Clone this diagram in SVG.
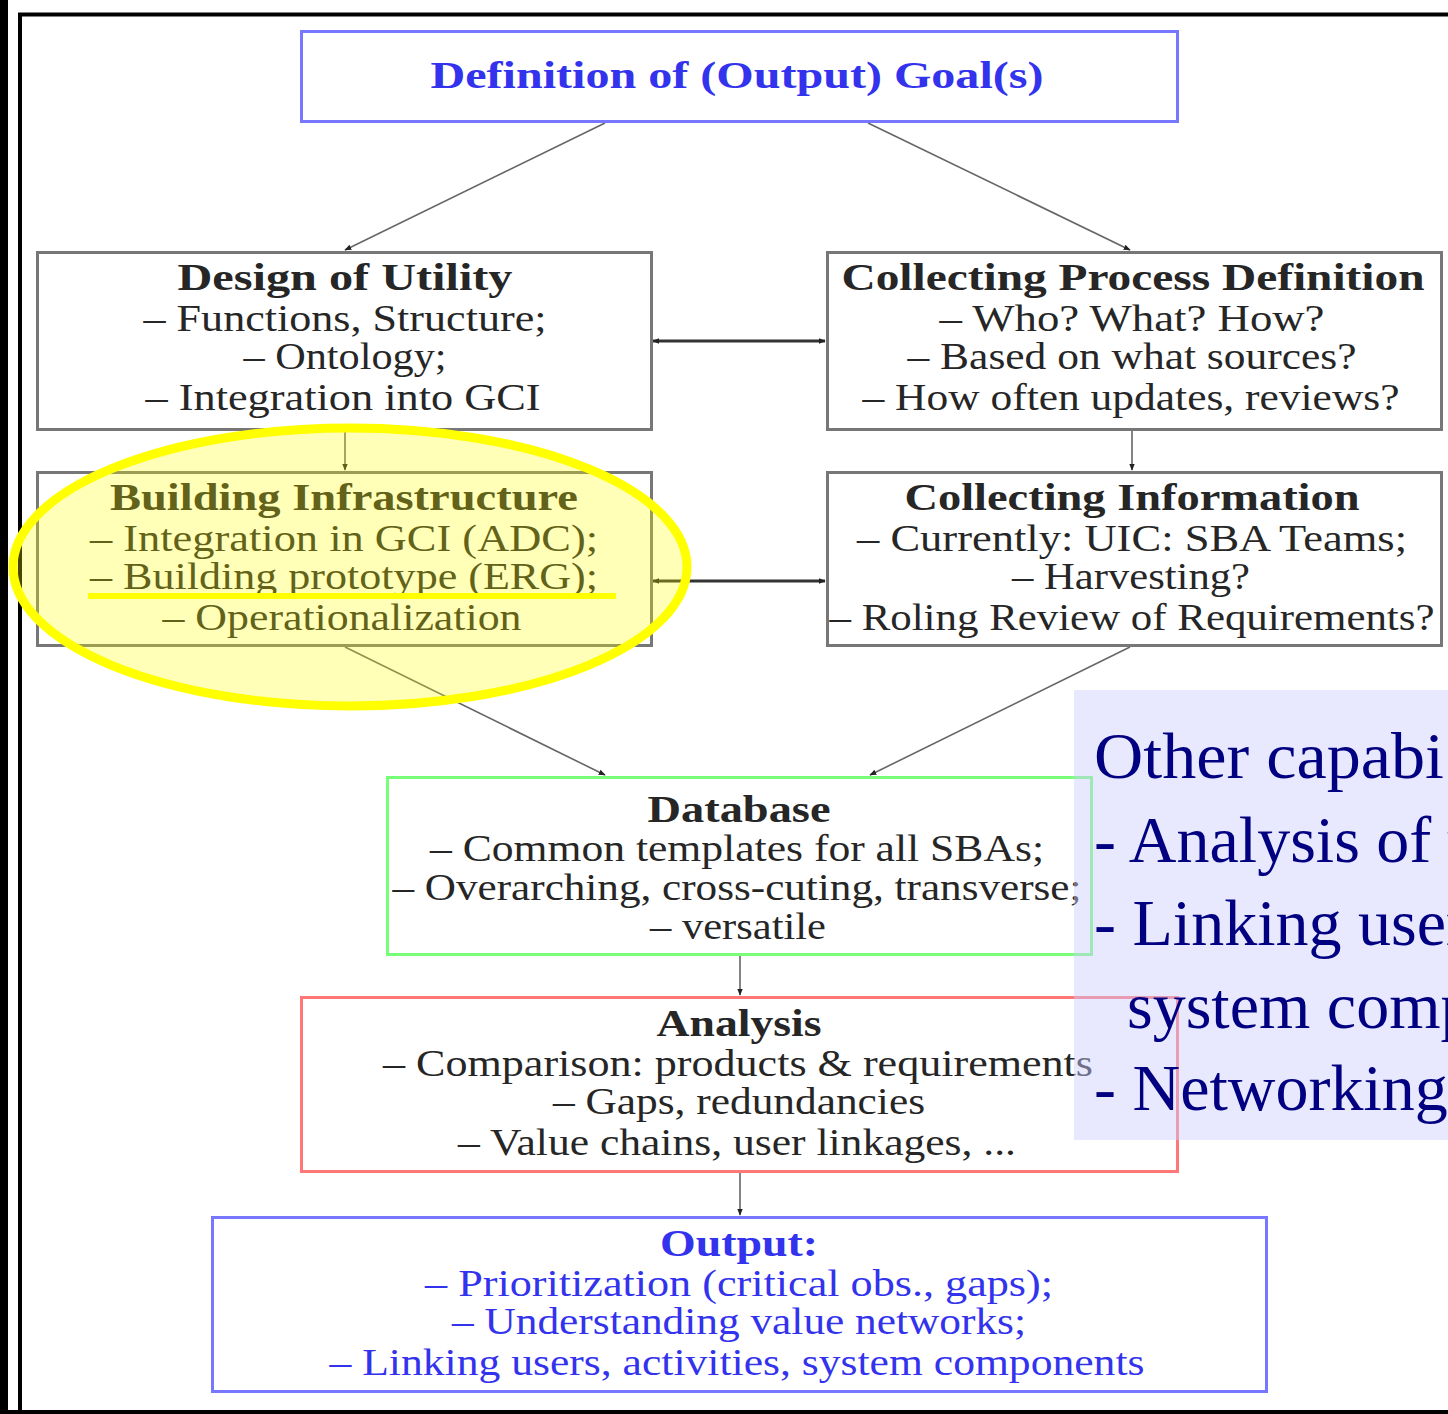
<svg xmlns="http://www.w3.org/2000/svg" width="1448" height="1414" viewBox="0 0 1448 1414">
<defs>
<marker id="ah" viewBox="0 0 10 10" refX="9" refY="5" markerWidth="7" markerHeight="7" orient="auto-start-reverse" markerUnits="userSpaceOnUse">
<path d="M0,1 L10,5 L0,9 z" fill="#222"/>
</marker>
<style>
.box{fill:none;stroke-width:3}
.g{stroke:#777}
.b{stroke:#7777ff}
.gr{stroke:#77ff77}
.r{stroke:#ff7777}
text{font-family:"Liberation Serif","DejaVu Serif",serif;font-size:38px;text-anchor:middle;fill:#262626}
.t{font-weight:bold}
.bl{fill:#3333ee}
.ov{font-family:"Liberation Serif","Times New Roman",serif;font-size:66px;fill:#000080;text-anchor:start}
.c{fill:none;stroke:#666;stroke-width:1.6}
.h{fill:none;stroke:#333;stroke-width:3}
</style>
</defs>
<rect width="1448" height="1414" fill="#fff"/>
<rect x="0" y="0" width="8" height="1414" fill="#000"/>
<path d="M20,1450 V14.5 H1450" fill="none" stroke="#000" stroke-width="4"/>
<rect x="0" y="1410" width="1448" height="4" fill="#000"/>

<g id="connectors">
<line class="c" x1="605" y1="123" x2="345" y2="250" marker-end="url(#ah)"/>
<line class="c" x1="868" y1="123" x2="1130" y2="250" marker-end="url(#ah)"/>
<line class="h" x1="653" y1="341" x2="825" y2="341" marker-start="url(#ah)" marker-end="url(#ah)"/>
<line class="c" x1="345" y1="431" x2="345" y2="470" marker-end="url(#ah)"/>
<line class="c" x1="1132" y1="431" x2="1132" y2="470" marker-end="url(#ah)"/>
<line class="h" x1="653" y1="581" x2="825" y2="581" marker-start="url(#ah)" marker-end="url(#ah)"/>
<line class="c" x1="345" y1="647" x2="605" y2="775" marker-end="url(#ah)"/>
<line class="c" x1="1130" y1="647" x2="870" y2="775" marker-end="url(#ah)"/>
<line class="c" x1="740" y1="956" x2="740" y2="995" marker-end="url(#ah)"/>
<line class="c" x1="740" y1="1173" x2="740" y2="1215" marker-end="url(#ah)"/>
</g>

<g id="goal">
<rect class="box b" x="301.5" y="31.5" width="876" height="90"/>
<text class="t bl" x="737" y="88" textLength="613" lengthAdjust="spacingAndGlyphs">Definition of (Output) Goal(s)</text>
</g>

<g id="design">
<rect class="box g" x="37.5" y="252.5" width="614" height="177"/>
<text class="t" x="345" y="290" textLength="335" lengthAdjust="spacingAndGlyphs">Design of Utility</text>
<text x="345" y="331" textLength="403" lengthAdjust="spacingAndGlyphs">– Functions, Structure;</text>
<text x="345" y="369" textLength="203" lengthAdjust="spacingAndGlyphs">– Ontology;</text>
<text x="343" y="410" textLength="395" lengthAdjust="spacingAndGlyphs">– Integration into GCI</text>
</g>

<g id="process">
<rect class="box g" x="827.5" y="252.5" width="614" height="177"/>
<text class="t" x="1133" y="290" textLength="583" lengthAdjust="spacingAndGlyphs">Collecting Process Definition</text>
<text x="1132" y="331" textLength="385" lengthAdjust="spacingAndGlyphs">– Who?  What?  How?</text>
<text x="1132" y="369" textLength="449" lengthAdjust="spacingAndGlyphs">– Based on what sources?</text>
<text x="1131" y="410" textLength="537" lengthAdjust="spacingAndGlyphs">– How often updates, reviews?</text>
</g>

<g id="building">
<rect class="box g" x="37.5" y="472.5" width="614" height="173"/>
<text class="t" x="344" y="510" textLength="468" lengthAdjust="spacingAndGlyphs">Building Infrastructure</text>
<text x="344" y="551" textLength="508" lengthAdjust="spacingAndGlyphs">– Integration in GCI (ADC);</text>
<text x="344" y="589" textLength="508" lengthAdjust="spacingAndGlyphs">– Building prototype (ERG);</text>
<text x="342" y="630" textLength="359" lengthAdjust="spacingAndGlyphs">– Operationalization</text>
</g>

<g id="information">
<rect class="box g" x="827.5" y="472.5" width="614" height="173"/>
<text class="t" x="1132" y="510" textLength="455" lengthAdjust="spacingAndGlyphs">Collecting Information</text>
<text x="1132" y="551" textLength="550" lengthAdjust="spacingAndGlyphs">– Currently:  UIC: SBA Teams;</text>
<text x="1131" y="589" textLength="238" lengthAdjust="spacingAndGlyphs">– Harvesting?</text>
<text x="1132" y="630" textLength="605" lengthAdjust="spacingAndGlyphs">– Roling Review of Requirements?</text>
</g>

<g id="database">
<rect class="box gr" x="387.5" y="777.5" width="704" height="177"/>
<text class="t" x="739" y="822" textLength="183" lengthAdjust="spacingAndGlyphs">Database</text>
<text x="737" y="861" textLength="614" lengthAdjust="spacingAndGlyphs">– Common templates for all SBAs;</text>
<text x="737" y="900" textLength="689" lengthAdjust="spacingAndGlyphs">– Overarching, cross-cuting, transverse;</text>
<text x="738" y="939" textLength="176" lengthAdjust="spacingAndGlyphs">– versatile</text>
</g>

<g id="analysis">
<rect class="box r" x="301.5" y="997.5" width="876" height="174"/>
<text class="t" x="739" y="1036" textLength="165" lengthAdjust="spacingAndGlyphs">Analysis</text>
<text x="738" y="1076" textLength="710" lengthAdjust="spacingAndGlyphs">– Comparison:  products &amp; requirements</text>
<text x="739" y="1114" textLength="372" lengthAdjust="spacingAndGlyphs">– Gaps, redundancies</text>
<text x="737" y="1155" textLength="558" lengthAdjust="spacingAndGlyphs">– Value chains, user linkages, ...</text>
</g>

<g id="output">
<rect class="box b" x="212.5" y="1217.5" width="1054" height="174"/>
<text class="t bl" x="739" y="1256" textLength="158" lengthAdjust="spacingAndGlyphs">Output:</text>
<text class="bl" x="739" y="1296" textLength="628" lengthAdjust="spacingAndGlyphs">– Prioritization (critical obs., gaps);</text>
<text class="bl" x="739" y="1334" textLength="574" lengthAdjust="spacingAndGlyphs">– Understanding value networks;</text>
<text class="bl" x="737" y="1375" textLength="815" lengthAdjust="spacingAndGlyphs">– Linking users, activities, system components</text>
</g>

<g id="highlight">
<ellipse cx="350" cy="567" rx="337" ry="139" fill="#ffff00" fill-opacity="0.28" stroke="#ffff00" stroke-width="9"/>
<line x1="88" y1="596" x2="616" y2="596" stroke="#ffff00" stroke-width="6"/>
</g>

<g id="overlay">
<rect x="1074" y="690" width="380" height="450" fill="#ccccff" fill-opacity="0.45"/>
<text class="ov" x="1094" y="778" textLength="350" lengthAdjust="spacingAndGlyphs">Other capabi</text>
<text class="ov" x="1094" y="862">- Analysis of v</text>
<text class="ov" x="1094" y="945">- Linking user</text>
<text class="ov" x="1127" y="1028">system comp</text>
<text class="ov" x="1094" y="1110">- Networking</text>
</g>
</svg>
